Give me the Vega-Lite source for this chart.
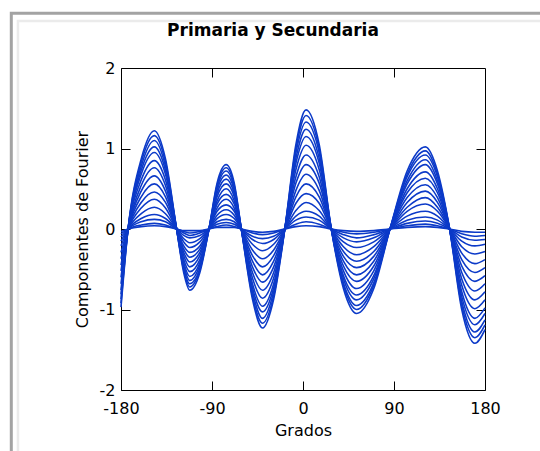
{
"$schema": "https://vega.github.io/schema/vega-lite/v6.json",
"width": 364, "height": 322,
"autosize": {"type": "none"},
"padding": {"left": 121, "top": 68, "right": 55, "bottom": 61},
"background": "white",
"title": {"text": "Primaria y Secundaria", "font": "DejaVu Sans", "fontSize": 17, "fontWeight": "bold", "color": "#000", "anchor": "middle", "dx": -30, "baseline": "alphabetic", "offset": -41},
"config": {
  "view": {"stroke": "#000", "strokeWidth": 1},
  "axis": {"grid": false, "domain": false, "tickColor": "#000", "tickWidth": 1, "tickSize": -9, "labelColor": "#000", "labelFont": "DejaVu Sans", "labelFontSize": 16, "titleFont": "DejaVu Sans", "titleFontSize": 16, "titleFontWeight": "normal", "titleColor": "#000", "labelFlush": false, "labelOverlap": false, "labelExpr": "'' + datum.value"}
},
"datasets": {"curvas": [
{"c":1,"x":-180,"y":-0.97},{"c":1,"x":-173,"y":0},{"c":1,"x":-160,"y":0.87},{"c":1,"x":-147,"y":1.22},{"c":1,"x":-136,"y":0.87},{"c":1,"x":-125,"y":0},{"c":1,"x":-118,"y":-0.54},{"c":1,"x":-112,"y":-0.76},{"c":1,"x":-102,"y":-0.54},{"c":1,"x":-93,"y":0},{"c":1,"x":-85,"y":0.57},{"c":1,"x":-76,"y":0.8},{"c":1,"x":-68,"y":0.57},{"c":1,"x":-61,"y":0},{"c":1,"x":-50,"y":-0.87},{"c":1,"x":-40,"y":-1.23},{"c":1,"x":-29,"y":-0.87},{"c":1,"x":-18,"y":0},{"c":1,"x":-7,"y":1.05},{"c":1,"x":3,"y":1.48},{"c":1,"x":16,"y":1.05},{"c":1,"x":28,"y":0},{"c":1,"x":40,"y":-0.74},{"c":1,"x":53,"y":-1.05},{"c":1,"x":70,"y":-0.74},{"c":1,"x":86,"y":0},{"c":1,"x":103,"y":0.72},{"c":1,"x":121,"y":1.02},{"c":1,"x":133,"y":0.72},{"c":1,"x":145,"y":0},{"c":1,"x":157,"y":-1},{"c":1,"x":170,"y":-1.42},{"c":1,"x":180,"y":-1.25},
{"c":2,"x":-180,"y":-0.92},{"c":2,"x":-173,"y":0},{"c":2,"x":-160,"y":0.83},{"c":2,"x":-147,"y":1.16},{"c":2,"x":-136,"y":0.83},{"c":2,"x":-125,"y":0},{"c":2,"x":-118,"y":-0.51},{"c":2,"x":-112,"y":-0.72},{"c":2,"x":-102,"y":-0.51},{"c":2,"x":-93,"y":0},{"c":2,"x":-85,"y":0.54},{"c":2,"x":-76,"y":0.76},{"c":2,"x":-68,"y":0.54},{"c":2,"x":-61,"y":0},{"c":2,"x":-50,"y":-0.83},{"c":2,"x":-40,"y":-1.17},{"c":2,"x":-29,"y":-0.83},{"c":2,"x":-18,"y":0},{"c":2,"x":-7,"y":1},{"c":2,"x":3,"y":1.41},{"c":2,"x":16,"y":1},{"c":2,"x":28,"y":0},{"c":2,"x":40,"y":-0.7},{"c":2,"x":53,"y":-1},{"c":2,"x":70,"y":-0.7},{"c":2,"x":86,"y":0},{"c":2,"x":103,"y":0.68},{"c":2,"x":121,"y":0.97},{"c":2,"x":133,"y":0.68},{"c":2,"x":145,"y":0},{"c":2,"x":157,"y":-0.95},{"c":2,"x":170,"y":-1.35},{"c":2,"x":180,"y":-1.19},
{"c":3,"x":-180,"y":-0.87},{"c":3,"x":-173,"y":0},{"c":3,"x":-160,"y":0.78},{"c":3,"x":-147,"y":1.1},{"c":3,"x":-136,"y":0.78},{"c":3,"x":-125,"y":0},{"c":3,"x":-118,"y":-0.49},{"c":3,"x":-112,"y":-0.68},{"c":3,"x":-102,"y":-0.49},{"c":3,"x":-93,"y":0},{"c":3,"x":-85,"y":0.51},{"c":3,"x":-76,"y":0.72},{"c":3,"x":-68,"y":0.51},{"c":3,"x":-61,"y":0},{"c":3,"x":-50,"y":-0.78},{"c":3,"x":-40,"y":-1.11},{"c":3,"x":-29,"y":-0.78},{"c":3,"x":-18,"y":0},{"c":3,"x":-7,"y":0.95},{"c":3,"x":3,"y":1.33},{"c":3,"x":16,"y":0.95},{"c":3,"x":28,"y":0},{"c":3,"x":40,"y":-0.67},{"c":3,"x":53,"y":-0.95},{"c":3,"x":70,"y":-0.67},{"c":3,"x":86,"y":0},{"c":3,"x":103,"y":0.65},{"c":3,"x":121,"y":0.92},{"c":3,"x":133,"y":0.65},{"c":3,"x":145,"y":0},{"c":3,"x":157,"y":-0.9},{"c":3,"x":170,"y":-1.28},{"c":3,"x":180,"y":-1.13},
{"c":4,"x":-180,"y":-0.81},{"c":4,"x":-173,"y":0},{"c":4,"x":-160,"y":0.73},{"c":4,"x":-147,"y":1.02},{"c":4,"x":-136,"y":0.73},{"c":4,"x":-125,"y":0},{"c":4,"x":-118,"y":-0.45},{"c":4,"x":-112,"y":-0.64},{"c":4,"x":-102,"y":-0.45},{"c":4,"x":-93,"y":0},{"c":4,"x":-85,"y":0.48},{"c":4,"x":-76,"y":0.67},{"c":4,"x":-68,"y":0.48},{"c":4,"x":-61,"y":0},{"c":4,"x":-50,"y":-0.73},{"c":4,"x":-40,"y":-1.03},{"c":4,"x":-29,"y":-0.73},{"c":4,"x":-18,"y":0},{"c":4,"x":-7,"y":0.88},{"c":4,"x":3,"y":1.24},{"c":4,"x":16,"y":0.88},{"c":4,"x":28,"y":0},{"c":4,"x":40,"y":-0.62},{"c":4,"x":53,"y":-0.88},{"c":4,"x":70,"y":-0.62},{"c":4,"x":86,"y":0},{"c":4,"x":103,"y":0.6},{"c":4,"x":121,"y":0.86},{"c":4,"x":133,"y":0.6},{"c":4,"x":145,"y":0},{"c":4,"x":157,"y":-0.84},{"c":4,"x":170,"y":-1.19},{"c":4,"x":180,"y":-1.05},
{"c":5,"x":-180,"y":-0.76},{"c":5,"x":-173,"y":0},{"c":5,"x":-160,"y":0.68},{"c":5,"x":-147,"y":0.95},{"c":5,"x":-136,"y":0.68},{"c":5,"x":-125,"y":0},{"c":5,"x":-118,"y":-0.42},{"c":5,"x":-112,"y":-0.59},{"c":5,"x":-102,"y":-0.42},{"c":5,"x":-93,"y":0},{"c":5,"x":-85,"y":0.44},{"c":5,"x":-76,"y":0.62},{"c":5,"x":-68,"y":0.44},{"c":5,"x":-61,"y":0},{"c":5,"x":-50,"y":-0.68},{"c":5,"x":-40,"y":-0.96},{"c":5,"x":-29,"y":-0.68},{"c":5,"x":-18,"y":0},{"c":5,"x":-7,"y":0.82},{"c":5,"x":3,"y":1.15},{"c":5,"x":16,"y":0.82},{"c":5,"x":28,"y":0},{"c":5,"x":40,"y":-0.58},{"c":5,"x":53,"y":-0.82},{"c":5,"x":70,"y":-0.58},{"c":5,"x":86,"y":0},{"c":5,"x":103,"y":0.56},{"c":5,"x":121,"y":0.8},{"c":5,"x":133,"y":0.56},{"c":5,"x":145,"y":0},{"c":5,"x":157,"y":-0.78},{"c":5,"x":170,"y":-1.11},{"c":5,"x":180,"y":-0.98},
{"c":6,"x":-180,"y":-0.68},{"c":6,"x":-173,"y":0},{"c":6,"x":-160,"y":0.61},{"c":6,"x":-147,"y":0.85},{"c":6,"x":-136,"y":0.61},{"c":6,"x":-125,"y":0},{"c":6,"x":-118,"y":-0.38},{"c":6,"x":-112,"y":-0.53},{"c":6,"x":-102,"y":-0.38},{"c":6,"x":-93,"y":0},{"c":6,"x":-85,"y":0.4},{"c":6,"x":-76,"y":0.56},{"c":6,"x":-68,"y":0.4},{"c":6,"x":-61,"y":0},{"c":6,"x":-50,"y":-0.61},{"c":6,"x":-40,"y":-0.86},{"c":6,"x":-29,"y":-0.61},{"c":6,"x":-18,"y":0},{"c":6,"x":-7,"y":0.74},{"c":6,"x":3,"y":1.04},{"c":6,"x":16,"y":0.74},{"c":6,"x":28,"y":0},{"c":6,"x":40,"y":-0.52},{"c":6,"x":53,"y":-0.74},{"c":6,"x":70,"y":-0.52},{"c":6,"x":86,"y":0},{"c":6,"x":103,"y":0.5},{"c":6,"x":121,"y":0.71},{"c":6,"x":133,"y":0.5},{"c":6,"x":145,"y":0},{"c":6,"x":157,"y":-0.7},{"c":6,"x":170,"y":-0.99},{"c":6,"x":180,"y":-0.88},
{"c":7,"x":-180,"y":-0.6},{"c":7,"x":-173,"y":0},{"c":7,"x":-160,"y":0.54},{"c":7,"x":-147,"y":0.76},{"c":7,"x":-136,"y":0.54},{"c":7,"x":-125,"y":0},{"c":7,"x":-118,"y":-0.33},{"c":7,"x":-112,"y":-0.47},{"c":7,"x":-102,"y":-0.33},{"c":7,"x":-93,"y":0},{"c":7,"x":-85,"y":0.35},{"c":7,"x":-76,"y":0.5},{"c":7,"x":-68,"y":0.35},{"c":7,"x":-61,"y":0},{"c":7,"x":-50,"y":-0.54},{"c":7,"x":-40,"y":-0.76},{"c":7,"x":-29,"y":-0.54},{"c":7,"x":-18,"y":0},{"c":7,"x":-7,"y":0.65},{"c":7,"x":3,"y":0.92},{"c":7,"x":16,"y":0.65},{"c":7,"x":28,"y":0},{"c":7,"x":40,"y":-0.46},{"c":7,"x":53,"y":-0.65},{"c":7,"x":70,"y":-0.46},{"c":7,"x":86,"y":0},{"c":7,"x":103,"y":0.45},{"c":7,"x":121,"y":0.63},{"c":7,"x":133,"y":0.45},{"c":7,"x":145,"y":0},{"c":7,"x":157,"y":-0.62},{"c":7,"x":170,"y":-0.88},{"c":7,"x":180,"y":-0.78},
{"c":8,"x":-180,"y":-0.52},{"c":8,"x":-173,"y":0},{"c":8,"x":-160,"y":0.47},{"c":8,"x":-147,"y":0.66},{"c":8,"x":-136,"y":0.47},{"c":8,"x":-125,"y":0},{"c":8,"x":-118,"y":-0.29},{"c":8,"x":-112,"y":-0.41},{"c":8,"x":-102,"y":-0.29},{"c":8,"x":-93,"y":0},{"c":8,"x":-85,"y":0.31},{"c":8,"x":-76,"y":0.43},{"c":8,"x":-68,"y":0.31},{"c":8,"x":-61,"y":0},{"c":8,"x":-50,"y":-0.47},{"c":8,"x":-40,"y":-0.66},{"c":8,"x":-29,"y":-0.47},{"c":8,"x":-18,"y":0},{"c":8,"x":-7,"y":0.57},{"c":8,"x":3,"y":0.8},{"c":8,"x":16,"y":0.57},{"c":8,"x":28,"y":0},{"c":8,"x":40,"y":-0.4},{"c":8,"x":53,"y":-0.57},{"c":8,"x":70,"y":-0.4},{"c":8,"x":86,"y":0},{"c":8,"x":103,"y":0.39},{"c":8,"x":121,"y":0.55},{"c":8,"x":133,"y":0.39},{"c":8,"x":145,"y":0},{"c":8,"x":157,"y":-0.54},{"c":8,"x":170,"y":-0.77},{"c":8,"x":180,"y":-0.68},
{"c":9,"x":-180,"y":-0.45},{"c":9,"x":-173,"y":0},{"c":9,"x":-160,"y":0.4},{"c":9,"x":-147,"y":0.56},{"c":9,"x":-136,"y":0.4},{"c":9,"x":-125,"y":0},{"c":9,"x":-118,"y":-0.25},{"c":9,"x":-112,"y":-0.35},{"c":9,"x":-102,"y":-0.25},{"c":9,"x":-93,"y":0},{"c":9,"x":-85,"y":0.26},{"c":9,"x":-76,"y":0.37},{"c":9,"x":-68,"y":0.26},{"c":9,"x":-61,"y":0},{"c":9,"x":-50,"y":-0.4},{"c":9,"x":-40,"y":-0.57},{"c":9,"x":-29,"y":-0.4},{"c":9,"x":-18,"y":0},{"c":9,"x":-7,"y":0.48},{"c":9,"x":3,"y":0.68},{"c":9,"x":16,"y":0.48},{"c":9,"x":28,"y":0},{"c":9,"x":40,"y":-0.34},{"c":9,"x":53,"y":-0.48},{"c":9,"x":70,"y":-0.34},{"c":9,"x":86,"y":0},{"c":9,"x":103,"y":0.33},{"c":9,"x":121,"y":0.47},{"c":9,"x":133,"y":0.33},{"c":9,"x":145,"y":0},{"c":9,"x":157,"y":-0.46},{"c":9,"x":170,"y":-0.65},{"c":9,"x":180,"y":-0.58},
{"c":10,"x":-180,"y":-0.37},{"c":10,"x":-173,"y":0},{"c":10,"x":-160,"y":0.33},{"c":10,"x":-147,"y":0.46},{"c":10,"x":-136,"y":0.33},{"c":10,"x":-125,"y":0},{"c":10,"x":-118,"y":-0.21},{"c":10,"x":-112,"y":-0.29},{"c":10,"x":-102,"y":-0.21},{"c":10,"x":-93,"y":0},{"c":10,"x":-85,"y":0.22},{"c":10,"x":-76,"y":0.3},{"c":10,"x":-68,"y":0.22},{"c":10,"x":-61,"y":0},{"c":10,"x":-50,"y":-0.33},{"c":10,"x":-40,"y":-0.47},{"c":10,"x":-29,"y":-0.33},{"c":10,"x":-18,"y":0},{"c":10,"x":-7,"y":0.4},{"c":10,"x":3,"y":0.56},{"c":10,"x":16,"y":0.4},{"c":10,"x":28,"y":0},{"c":10,"x":40,"y":-0.28},{"c":10,"x":53,"y":-0.4},{"c":10,"x":70,"y":-0.28},{"c":10,"x":86,"y":0},{"c":10,"x":103,"y":0.27},{"c":10,"x":121,"y":0.39},{"c":10,"x":133,"y":0.27},{"c":10,"x":145,"y":0},{"c":10,"x":157,"y":-0.38},{"c":10,"x":170,"y":-0.54},{"c":10,"x":180,"y":-0.48},
{"c":11,"x":-180,"y":-0.29},{"c":11,"x":-173,"y":0},{"c":11,"x":-160,"y":0.26},{"c":11,"x":-147,"y":0.37},{"c":11,"x":-136,"y":0.26},{"c":11,"x":-125,"y":0},{"c":11,"x":-118,"y":-0.16},{"c":11,"x":-112,"y":-0.23},{"c":11,"x":-102,"y":-0.16},{"c":11,"x":-93,"y":0},{"c":11,"x":-85,"y":0.17},{"c":11,"x":-76,"y":0.24},{"c":11,"x":-68,"y":0.17},{"c":11,"x":-61,"y":0},{"c":11,"x":-50,"y":-0.26},{"c":11,"x":-40,"y":-0.37},{"c":11,"x":-29,"y":-0.26},{"c":11,"x":-18,"y":0},{"c":11,"x":-7,"y":0.32},{"c":11,"x":3,"y":0.44},{"c":11,"x":16,"y":0.32},{"c":11,"x":28,"y":0},{"c":11,"x":40,"y":-0.22},{"c":11,"x":53,"y":-0.32},{"c":11,"x":70,"y":-0.22},{"c":11,"x":86,"y":0},{"c":11,"x":103,"y":0.22},{"c":11,"x":121,"y":0.31},{"c":11,"x":133,"y":0.22},{"c":11,"x":145,"y":0},{"c":11,"x":157,"y":-0.3},{"c":11,"x":170,"y":-0.43},{"c":11,"x":180,"y":-0.38},
{"c":12,"x":-180,"y":-0.21},{"c":12,"x":-173,"y":0},{"c":12,"x":-160,"y":0.19},{"c":12,"x":-147,"y":0.27},{"c":12,"x":-136,"y":0.19},{"c":12,"x":-125,"y":0},{"c":12,"x":-118,"y":-0.12},{"c":12,"x":-112,"y":-0.17},{"c":12,"x":-102,"y":-0.12},{"c":12,"x":-93,"y":0},{"c":12,"x":-85,"y":0.13},{"c":12,"x":-76,"y":0.18},{"c":12,"x":-68,"y":0.13},{"c":12,"x":-61,"y":0},{"c":12,"x":-50,"y":-0.19},{"c":12,"x":-40,"y":-0.27},{"c":12,"x":-29,"y":-0.19},{"c":12,"x":-18,"y":0},{"c":12,"x":-7,"y":0.23},{"c":12,"x":3,"y":0.33},{"c":12,"x":16,"y":0.23},{"c":12,"x":28,"y":0},{"c":12,"x":40,"y":-0.16},{"c":12,"x":53,"y":-0.23},{"c":12,"x":70,"y":-0.16},{"c":12,"x":86,"y":0},{"c":12,"x":103,"y":0.16},{"c":12,"x":121,"y":0.22},{"c":12,"x":133,"y":0.16},{"c":12,"x":145,"y":0},{"c":12,"x":157,"y":-0.22},{"c":12,"x":170,"y":-0.31},{"c":12,"x":180,"y":-0.28},
{"c":13,"x":-180,"y":-0.15},{"c":13,"x":-173,"y":0},{"c":13,"x":-160,"y":0.13},{"c":13,"x":-147,"y":0.18},{"c":13,"x":-136,"y":0.13},{"c":13,"x":-125,"y":0},{"c":13,"x":-118,"y":-0.08},{"c":13,"x":-112,"y":-0.11},{"c":13,"x":-102,"y":-0.08},{"c":13,"x":-93,"y":0},{"c":13,"x":-85,"y":0.09},{"c":13,"x":-76,"y":0.12},{"c":13,"x":-68,"y":0.09},{"c":13,"x":-61,"y":0},{"c":13,"x":-50,"y":-0.13},{"c":13,"x":-40,"y":-0.18},{"c":13,"x":-29,"y":-0.13},{"c":13,"x":-18,"y":0},{"c":13,"x":-7,"y":0.16},{"c":13,"x":3,"y":0.22},{"c":13,"x":16,"y":0.16},{"c":13,"x":28,"y":0},{"c":13,"x":40,"y":-0.11},{"c":13,"x":53,"y":-0.16},{"c":13,"x":70,"y":-0.11},{"c":13,"x":86,"y":0},{"c":13,"x":103,"y":0.11},{"c":13,"x":121,"y":0.15},{"c":13,"x":133,"y":0.11},{"c":13,"x":145,"y":0},{"c":13,"x":157,"y":-0.15},{"c":13,"x":170,"y":-0.21},{"c":13,"x":180,"y":-0.19},
{"c":14,"x":-180,"y":-0.1},{"c":14,"x":-173,"y":0},{"c":14,"x":-160,"y":0.09},{"c":14,"x":-147,"y":0.12},{"c":14,"x":-136,"y":0.09},{"c":14,"x":-125,"y":0},{"c":14,"x":-118,"y":-0.05},{"c":14,"x":-112,"y":-0.08},{"c":14,"x":-102,"y":-0.05},{"c":14,"x":-93,"y":0},{"c":14,"x":-85,"y":0.06},{"c":14,"x":-76,"y":0.08},{"c":14,"x":-68,"y":0.06},{"c":14,"x":-61,"y":0},{"c":14,"x":-50,"y":-0.09},{"c":14,"x":-40,"y":-0.12},{"c":14,"x":-29,"y":-0.09},{"c":14,"x":-18,"y":0},{"c":14,"x":-7,"y":0.11},{"c":14,"x":3,"y":0.15},{"c":14,"x":16,"y":0.11},{"c":14,"x":28,"y":0},{"c":14,"x":40,"y":-0.07},{"c":14,"x":53,"y":-0.11},{"c":14,"x":70,"y":-0.07},{"c":14,"x":86,"y":0},{"c":14,"x":103,"y":0.07},{"c":14,"x":121,"y":0.1},{"c":14,"x":133,"y":0.07},{"c":14,"x":145,"y":0},{"c":14,"x":157,"y":-0.1},{"c":14,"x":170,"y":-0.14},{"c":14,"x":180,"y":-0.13},
{"c":15,"x":-180,"y":-0.06},{"c":15,"x":-173,"y":0},{"c":15,"x":-160,"y":0.05},{"c":15,"x":-147,"y":0.07},{"c":15,"x":-136,"y":0.05},{"c":15,"x":-125,"y":0},{"c":15,"x":-118,"y":-0.03},{"c":15,"x":-112,"y":-0.05},{"c":15,"x":-102,"y":-0.03},{"c":15,"x":-93,"y":0},{"c":15,"x":-85,"y":0.03},{"c":15,"x":-76,"y":0.05},{"c":15,"x":-68,"y":0.03},{"c":15,"x":-61,"y":0},{"c":15,"x":-50,"y":-0.05},{"c":15,"x":-40,"y":-0.07},{"c":15,"x":-29,"y":-0.05},{"c":15,"x":-18,"y":0},{"c":15,"x":-7,"y":0.06},{"c":15,"x":3,"y":0.09},{"c":15,"x":16,"y":0.06},{"c":15,"x":28,"y":0},{"c":15,"x":40,"y":-0.04},{"c":15,"x":53,"y":-0.06},{"c":15,"x":70,"y":-0.04},{"c":15,"x":86,"y":0},{"c":15,"x":103,"y":0.04},{"c":15,"x":121,"y":0.06},{"c":15,"x":133,"y":0.04},{"c":15,"x":145,"y":0},{"c":15,"x":157,"y":-0.06},{"c":15,"x":170,"y":-0.09},{"c":15,"x":180,"y":-0.08},
{"c":16,"x":-180,"y":-0.03},{"c":16,"x":-173,"y":0},{"c":16,"x":-160,"y":0.03},{"c":16,"x":-147,"y":0.04},{"c":16,"x":-136,"y":0.03},{"c":16,"x":-125,"y":0},{"c":16,"x":-118,"y":-0.02},{"c":16,"x":-112,"y":-0.02},{"c":16,"x":-102,"y":-0.02},{"c":16,"x":-93,"y":0},{"c":16,"x":-85,"y":0.02},{"c":16,"x":-76,"y":0.02},{"c":16,"x":-68,"y":0.02},{"c":16,"x":-61,"y":0},{"c":16,"x":-50,"y":-0.03},{"c":16,"x":-40,"y":-0.04},{"c":16,"x":-29,"y":-0.03},{"c":16,"x":-18,"y":0},{"c":16,"x":-7,"y":0.03},{"c":16,"x":3,"y":0.04},{"c":16,"x":16,"y":0.03},{"c":16,"x":28,"y":0},{"c":16,"x":40,"y":-0.02},{"c":16,"x":53,"y":-0.03},{"c":16,"x":70,"y":-0.02},{"c":16,"x":86,"y":0},{"c":16,"x":103,"y":0.02},{"c":16,"x":121,"y":0.03},{"c":16,"x":133,"y":0.02},{"c":16,"x":145,"y":0},{"c":16,"x":157,"y":-0.03},{"c":16,"x":170,"y":-0.04},{"c":16,"x":180,"y":-0.04}
]},
"layer": [
  {
    "data": {"values": [{"marco": "exterior"}]},
    "mark": {"type": "rect", "filled": false, "stroke": "#a3a3a3", "strokeWidth": 3},
    "encoding": {
      "x": {"datum": -288.5, "type": "quantitative", "scale": {"domain": [-180, 180], "nice": false, "zero": false}, "axis": null},
      "x2": {"datum": 254},
      "y": {"datum": 2.679, "type": "quantitative", "scale": {"domain": [-2, 2], "nice": false, "zero": false}, "axis": null},
      "y2": {"datum": -2.99}
    }
  },
  {
    "data": {"values": [{"marco": "interior"}]},
    "mark": {"type": "rect", "filled": false, "stroke": "#ebebeb", "strokeWidth": 2.5},
    "encoding": {
      "x": {"datum": -281.9, "type": "quantitative", "scale": {"domain": [-180, 180], "nice": false, "zero": false}, "axis": null},
      "x2": {"datum": 254},
      "y": {"datum": 2.584, "type": "quantitative", "scale": {"domain": [-2, 2], "nice": false, "zero": false}, "axis": null},
      "y2": {"datum": -2.99}
    }
  },
  {
    "data": {"name": "curvas"},
    "transform": [{"filter": "datum.c <= 8"}],
    "mark": {"type": "line", "interpolate": "monotone", "stroke": "#0c3ac8", "strokeWidth": 1.6},
    "encoding": {
      "x": {"field": "x", "type": "quantitative", "scale": {"domain": [-180, 180], "nice": false, "zero": false},
            "axis": {"orient": "bottom", "title": "Grados", "values": [-180, -90, 0, 90, 180], "labelPadding": 19, "titlePadding": 6}},
      "y": {"field": "y", "type": "quantitative", "scale": {"domain": [-2, 2], "nice": false, "zero": false},
            "axis": {"orient": "left", "title": "Componentes de Fourier", "values": [-2, -1, 0, 1, 2], "labelPadding": 15, "titlePadding": 9}},
      "detail": {"field": "c", "type": "nominal"}
    }
  },
  {
    "data": {"name": "curvas"},
    "transform": [{"filter": "datum.c > 8"}],
    "mark": {"type": "line", "interpolate": "monotone", "stroke": "#0c3ac8", "strokeWidth": 1.6},
    "encoding": {
      "x": {"field": "x", "type": "quantitative", "scale": {"domain": [-180, 180], "nice": false, "zero": false},
            "axis": {"orient": "top", "title": null, "labels": false, "values": [-90, 0, 90]}},
      "y": {"field": "y", "type": "quantitative", "scale": {"domain": [-2, 2], "nice": false, "zero": false},
            "axis": {"orient": "right", "title": null, "labels": false, "values": [-1, 0, 1]}},
      "detail": {"field": "c", "type": "nominal"}
    }
  }
],
"resolve": {"axis": {"x": "independent", "y": "independent"}}
}
